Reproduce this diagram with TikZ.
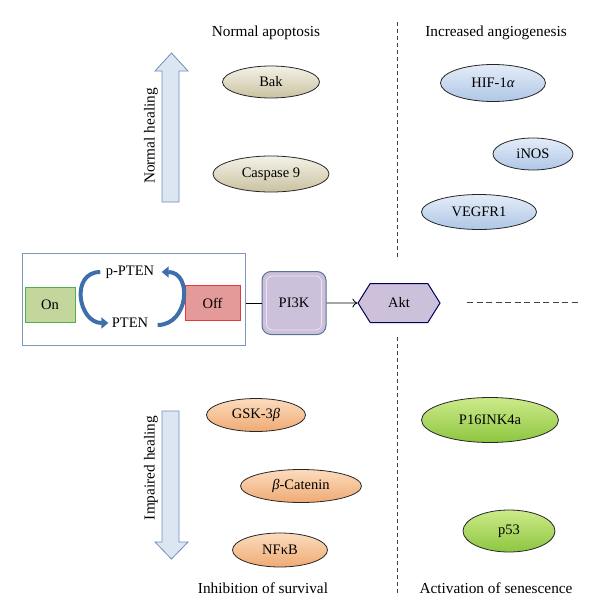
\documentclass[tikz,border=0pt]{standalone}
\usepackage{fontspec}
\setmainfont{Liberation Serif}
\usetikzlibrary{shapes.geometric,shapes.symbols,arrows.meta}
\definecolor{bakhi}{HTML}{F4F2E8}
\definecolor{baklo}{HTML}{C9C2A0}
\definecolor{angiohi}{HTML}{E4EDF8}
\definecolor{angiolo}{HTML}{AFC6E6}
\definecolor{survhi}{HTML}{FCDCBE}
\definecolor{survlo}{HTML}{EFAA74}
\definecolor{senhi}{HTML}{CDEA8A}
\definecolor{senlo}{HTML}{8DC63F}
\definecolor{lilac}{HTML}{CCC0DA}
\definecolor{cycblue}{HTML}{3F6FAA}
\definecolor{boxblue}{HTML}{7D97BF}
\definecolor{healfill}{HTML}{DCE6F2}
\definecolor{healline}{HTML}{6F8FBF}
\definecolor{onfill}{HTML}{C3D69B}
\definecolor{online}{HTML}{4DB04D}
\definecolor{offfill}{HTML}{E39A98}
\definecolor{offline}{HTML}{E03C3C}
\begin{document}
\begin{tikzpicture}[x=1pt,y=-1pt,
  gene/.style={ellipse, draw=black!85, line width=0.8pt, inner sep=0pt, font=\fontsize{14.5}{16}\selectfont},
  phase/.style={font=\fontsize{15.3}{17}\selectfont},
  switch/.style={rectangle, line width=1pt, minimum width=50pt, minimum height=35pt, font=\fontsize{14.5}{16}\selectfont},
  cyc/.style={draw=cycblue, line width=4pt, -{Triangle[length=7pt,width=11pt]}},
  sep/.style={draw=black!75, line width=0.8pt, dash pattern=on 4pt off 3pt}]
\useasboundingbox (0,0) rectangle (600,616);
\node (apop) at (266,33) [phase] {Normal apoptosis};
\node (angio) at (496,33) [phase] {Increased angiogenesis};
\node (surv) at (263,588) [phase] {Inhibition of survival};
\node (senes) at (496,588) [phase] {Activation of senescence};
\draw [sep] (397,22) -- (397,257);
\draw [sep] (397,337) -- (397,595);
\draw [sep, dash pattern=on 6pt off 3.5pt] (467,302) -- (580,302);
\draw [draw=healline, fill=healfill, line width=0.8pt] (162,202) -- (162,71) -- (155,71) -- (171.5,53) -- (188,71) -- (179,71) -- (179,202) -- cycle;
\node (normheal) at (151,136) [phase, rotate=90] {Normal healing};
\draw [draw=healline, fill=healfill, line width=0.8pt] (162,411) -- (162,542) -- (155,542) -- (171.5,559) -- (188,542) -- (179,542) -- (179,411) -- cycle;
\node (impheal) at (151,468) [phase, rotate=90] {Impaired healing};
\node (bak) at (271,82) [gene, top color=bakhi, bottom color=baklo, minimum width=97pt, minimum height=32pt] {Bak};
\node (casp) at (271,174) [gene, top color=bakhi, bottom color=baklo, minimum width=116pt, minimum height=36pt] {Caspase 9};
\node (hif) at (493,83) [gene, top color=angiohi, bottom color=angiolo, minimum width=105pt, minimum height=37pt] {HIF-1\textit{α}};
\node (inos) at (533,154) [gene, top color=angiohi, bottom color=angiolo, minimum width=80pt, minimum height=32pt] {iNOS};
\node (vegfr) at (479,212) [gene, top color=angiohi, bottom color=angiolo, minimum width=115pt, minimum height=35pt] {VEGFR1};
\node (gsk) at (256,415) [gene, top color=survhi, bottom color=survlo, minimum width=99pt, minimum height=33pt] {GSK-3\textit{β}};
\node (bcat) at (301,486) [gene, top color=survhi, bottom color=survlo, minimum width=121pt, minimum height=33pt] {\textit{β}-Catenin};
\node (nfkb) at (280,550) [gene, top color=survhi, bottom color=survlo, minimum width=95pt, minimum height=34pt] {NFκB};
\node (p16) at (490,420) [gene, top color=senhi, bottom color=senlo, minimum width=137pt, minimum height=45pt] {P16INK4a};
\node (p53) at (509,531) [gene, top color=senhi, bottom color=senlo, minimum width=92pt, minimum height=42pt] {p53};
\node (ptenbox) at (133.5,299) [draw=boxblue, line width=1pt, minimum width=223pt, minimum height=92pt] {};
\node (on) at (50,304.5) [switch, draw=online, fill=onfill] {On};
\node (off) at (212.5,303) [switch, draw=offline, fill=offfill, minimum width=55pt] {Off};
\node (ppten) at (130,272) [phase, font=\fontsize{14.5}{16}\selectfont] {p-PTEN};
\node (pten) at (130,323) [phase, font=\fontsize{14.5}{16}\selectfont] {PTEN};
\draw [cyc] ([xshift=-2pt]ppten.west) to [out=180, in=180, looseness=1.5] (pten.west);
\draw [cyc] ([xshift=6pt,yshift=-2pt]pten.east) to [out=0, in=0, looseness=1.5] ([xshift=4pt]ppten.east);
\node (pik) at (294,303) [rectangle, rounded corners=9pt, draw=healline!80!black, line width=1pt, fill=lilac, minimum width=64pt, minimum height=63pt, font=\fontsize{14.5}{16}\selectfont] {PI3K};
\draw [draw=white!60!lilac, line width=0.8pt, rounded corners=6pt] ([xshift=5pt,yshift=-5pt]pik.north west) rectangle ([xshift=-5pt,yshift=5pt]pik.south east);
\node (akt) at (399,303) [signal, signal to=west and east, signal pointer angle=116, draw=blue!35!black, line width=1pt, fill=lilac, minimum width=82pt, minimum height=39pt, inner sep=2pt, font=\fontsize{14.5}{16}\selectfont] {Akt};
\draw [black, line width=0.8pt] (pik.west -| ptenbox.east) -- (pik.west);
\draw [black, line width=0.8pt, -{To[length=5pt,width=9pt]}] (pik) -- (akt);
\end{tikzpicture}
\end{document}
